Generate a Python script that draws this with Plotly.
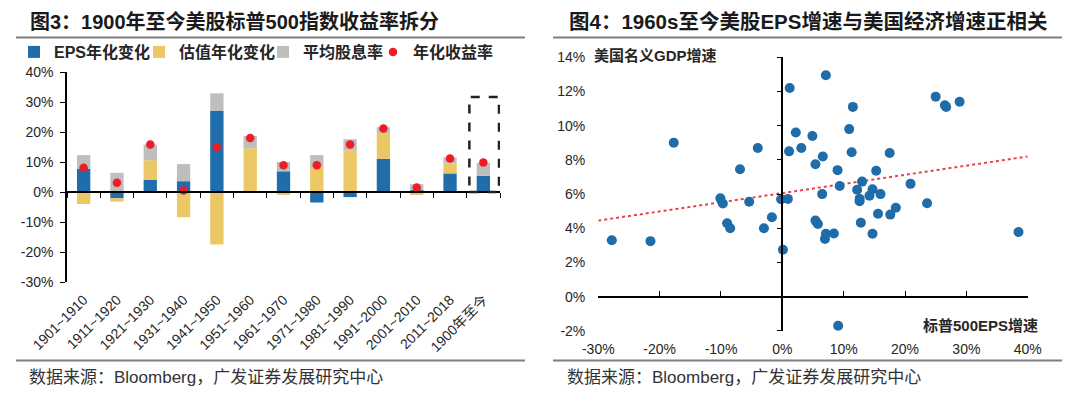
import plotly.graph_objects as go

# ---------------- data: left chart ----------------
categories = ["1901~1910", "1911~1920", "1921~1930", "1931~1940", "1941~1950",
              "1951~1960", "1961~1970", "1971~1980", "1981~1990", "1991~2000",
              "2001~2010", "2011~2018", "1900年至今"]
eps_change = [7.8, -2.1, 4.1, 3.6, 27.0, -0.3, 6.9, -3.5, -1.7, 11.1, 0.6, 6.2, 5.4]
valuation_change = [-4.0, -1.1, 6.5, -8.4, -17.5, 14.6, -1.0, 8.1, 13.9, 8.3, -1.0, 3.3, 0.2]
dividend_yield = [4.5, 6.4, 5.2, 5.7, 5.9, 4.1, 3.1, 4.2, 3.7, 2.2, 2.0, 2.0, 4.1]
annual_return = [8.1, 3.1, 15.8, 0.5, 15.0, 18.0, 8.9, 8.9, 15.8, 21.2, 1.5, 11.2, 9.8]
left_yticks = [-30, -20, -10, 0, 10, 20, 30, 40]
left_yticktext = ["-30%", "-20%", "-10%", "0%", "10%", "20%", "30%", "40%"]
highlight_top = 31.7

# ---------------- data: right chart ----------------
eps_growth = [-27.8, -21.5, -17.7, -10.1, -9.7, -9.0, -8.5, -6.9, -5.4, -4.0,
              -3.0, -1.7, -0.2, 0.9, 0.1, 1.2, 1.1, 2.2, 3.1, 4.9,
              5.4, 6.6, 7.1, 6.5, 5.4, 5.8, 7.1, 6.95, 8.4, 9.0,
              9.35, 9.1, 10.9, 11.5, 11.3, 12.2, 12.6, 12.6, 12.8, 13.0,
              14.2, 14.7, 14.7, 15.3, 15.6, 16.0, 17.5, 17.6, 18.5, 20.9,
              23.6, 25.0, 26.5, 26.7, 28.9, 38.5]
gdp_growth = [3.3, 3.25, 9.0, 5.75, 5.45, 4.3, 4.0, 7.45, 5.55, 8.7,
              4.0, 4.65, 5.7, 5.72, 2.75, 12.2, 8.5, 9.6, 8.7, 9.4,
              7.75, 8.2, 12.95, 6.0, 4.45, 4.25, 3.68, 3.37, 3.7, 7.4,
              6.47, -1.7, 9.8, 11.1, 8.45, 6.25, 5.72, 5.58, 4.33, 6.73,
              5.9, 6.28, 3.68, 7.37, 4.85, 6.0, 8.4, 4.8, 5.2, 6.6,
              5.46, 11.7, 11.2, 11.1, 11.4, 3.78]
trend_x = [-30, 40]
trend_y = [4.45, 8.2]
right_xticks = [-30, -20, -10, 0, 10, 20, 30, 40]
right_xticktext = ["-30%", "-20%", "-10%", "0%", "10%", "20%", "30%", "40%"]
right_yticks = [-2, 0, 2, 4, 6, 8, 10, 12, 14]
right_yticktext = ["-2%", "0%", "2%", "4%", "6%", "8%", "10%", "12%", "14%"]

# ---------------- style ----------------
W, H = 1080, 398
FONT = "Liberation Sans, Noto Sans CJK SC, sans-serif"
BLUE = "#1F6EAB"
YELLOW = "#EBC766"
GRAY = "#BEBEBE"
RED = "#EE1C25"
TXT = "#262626"

def px_x(p):
    return p / W

def px_y(p):
    return 1 - p / H

L_range = [left_yticks[0], left_yticks[-1]]
L_xdom = [px_x(67), px_x(500)]
L_ydom = [px_y(282), px_y(72)]
R_xrange = [right_xticks[0], right_xticks[-1]]
R_yrange = [right_yticks[0], right_yticks[-1]]
R_xdom = [px_x(598.3), px_x(1027.7)]
R_ydom = [px_y(330.9), px_y(57.3)]

def frac(v, rng, dom):
    return dom[0] + (v - rng[0]) / (rng[1] - rng[0]) * (dom[1] - dom[0])

n = len(categories)
fig = go.Figure()

fig.add_trace(go.Bar(x=categories, y=eps_change, name="EPS年化变化", legend="legend",
                     marker=dict(color=BLUE, line=dict(width=0)), xaxis="x", yaxis="y"))
fig.add_trace(go.Bar(x=categories, y=valuation_change, name="估值年化变化", legend="legend2",
                     marker=dict(color=YELLOW, line=dict(width=0)), xaxis="x", yaxis="y"))
fig.add_trace(go.Bar(x=categories, y=dividend_yield, name="平均股息率", legend="legend3",
                     marker=dict(color=GRAY, line=dict(width=0)), xaxis="x", yaxis="y"))
fig.add_trace(go.Scatter(x=categories, y=annual_return, name="年化收益率", mode="markers",
                         legend="legend4", marker=dict(color=RED, size=8.5),
                         xaxis="x", yaxis="y"))
# zero-line axis for left chart
fig.add_trace(go.Scatter(x=[], y=[], xaxis="x3", yaxis="y", showlegend=False, hoverinfo="skip"))

# right chart
fig.add_trace(go.Scatter(x=trend_x, y=trend_y, mode="lines", showlegend=False,
                         line=dict(color="#E8414B", width=2, dash="dot"),
                         xaxis="x2", yaxis="y2", hoverinfo="skip"))
fig.add_trace(go.Scatter(x=eps_growth, y=gdp_growth, mode="markers", showlegend=False,
                         marker=dict(color="#1F6CA8", size=10), xaxis="x2", yaxis="y2"))
fig.add_trace(go.Scatter(x=[], y=[], xaxis="x4", yaxis="y2", showlegend=False, hoverinfo="skip"))
fig.add_trace(go.Scatter(x=[], y=[], xaxis="x2", yaxis="y4", showlegend=False, hoverinfo="skip"))

tickfont = dict(family=FONT, size=14, color=TXT)

def legend_at(text_start):
    return dict(orientation="h", x=px_x(text_start - 39), y=px_y(52), xanchor="left",
                yanchor="middle", font=dict(family=FONT, size=16, color=TXT, weight="bold"),
                itemwidth=30, bgcolor="rgba(0,0,0,0)")

fig.update_layout(
    width=W, height=H,
    margin=dict(l=0, r=0, t=0, b=0, pad=0, autoexpand=False),
    paper_bgcolor="white", plot_bgcolor="white",
    barmode="relative", bargap=0.6,
    font=dict(family=FONT, color=TXT),
    showlegend=True,
    legend=legend_at(53),
    legend2=legend_at(178),
    legend3=legend_at(302),
    legend4=legend_at(412),
    xaxis=dict(domain=L_xdom, anchor="y", type="category", range=[-0.5, n - 0.5],
               showline=False, ticks="", showgrid=False, zeroline=False,
               tickangle=-45, tickfont=dict(family=FONT, size=14, color=TXT),
               ticklabelstandoff=6, fixedrange=True),
    xaxis3=dict(overlaying="x", anchor="free", position=frac(0, L_range, L_ydom),
                range=[-0.5, n - 0.5], tickvals=[i - 0.5 for i in range(n + 1)],
                ticks="outside", ticklen=5, tickcolor="black", showticklabels=False,
                showline=True, linecolor="black", linewidth=1.5, showgrid=False, zeroline=False),
    yaxis=dict(domain=L_ydom, anchor="x", range=L_range, tickvals=left_yticks,
               ticktext=left_yticktext, showline=True, linecolor="black", linewidth=1.5,
               ticks="outside", ticklen=5, tickcolor="black", showgrid=False, zeroline=False,
               tickfont=tickfont, ticklabelstandoff=4),
    xaxis2=dict(domain=R_xdom, anchor="y2", range=R_xrange, tickvals=right_xticks,
                ticktext=right_xticktext, showline=False, ticks="", showgrid=False,
                zeroline=False, tickfont=tickfont, ticklabelstandoff=8),
    yaxis2=dict(domain=R_ydom, anchor="x2", range=R_yrange, tickvals=right_yticks,
                ticktext=right_yticktext, showline=False, ticks="", showgrid=False,
                zeroline=False, tickfont=tickfont, ticklabelstandoff=12),
    xaxis4=dict(overlaying="x2", anchor="free", position=frac(0, R_yrange, R_ydom),
                range=R_xrange, tickvals=right_xticks, ticks="inside", ticklen=5,
                tickcolor="black", showticklabels=False, showline=True, linecolor="black",
                linewidth=1.5, showgrid=False, zeroline=False),
    yaxis4=dict(overlaying="y2", anchor="free", position=frac(0, R_xrange, R_xdom),
                range=R_yrange, tickvals=right_yticks, ticks="outside", ticklen=5,
                tickcolor="black", showticklabels=False, showline=True, linecolor="black",
                linewidth=1.5, showgrid=False, zeroline=False),
)

# highlight box around the last category
fig.add_shape(type="rect", xref="x", yref="y", x0=n - 1 - 0.42, x1=n - 1 + 0.47,
              y0=0, y1=highlight_top, line=dict(color="#222222", width=2.5, dash="dash"))

# title underline and footer lines
for x0, x1 in [(16, 525), (553, 1062)]:
    fig.add_shape(type="line", xref="paper", yref="paper", x0=px_x(x0), x1=px_x(x1),
                  y0=px_y(37.5), y1=px_y(37.5), line=dict(color="#7F7F7F", width=2))
    fig.add_shape(type="line", xref="paper", yref="paper", x0=px_x(x0), x1=px_x(x1),
                  y0=px_y(360.5), y1=px_y(360.5), line=dict(color="#7F7F7F", width=2))

titles = [(28, "<b>图3：1900年至今美股标普500指数收益率拆分</b>", 20),
          (567, "<b>图4：1960s至今美股EPS增速与美国经济增速正相关</b>", 20.5)]
for x, t, fs in titles:
    fig.add_annotation(text=t, xref="paper", yref="paper", x=px_x(x), y=px_y(21.5),
                       xanchor="left", yanchor="middle", showarrow=False,
                       font=dict(family=FONT, size=fs, color="#1A1A1A"))

for x in [27, 565]:
    fig.add_annotation(text="数据来源：Bloomberg，广发证券发展研究中心", xref="paper", yref="paper",
                       x=px_x(x), y=px_y(377.5), xanchor="left", yanchor="middle",
                       showarrow=False, font=dict(family=FONT, size=17, color="#333333"))

fig.add_annotation(text="<b>美国名义GDP增速</b>", xref="paper", yref="paper",
                   x=px_x(592), y=px_y(56), xanchor="left", yanchor="middle",
                   showarrow=False, font=dict(family=FONT, size=15, color=TXT))
fig.add_annotation(text="<b>标普500EPS增速</b>", xref="paper", yref="paper",
                   x=px_x(1040), y=px_y(325.5), xanchor="right", yanchor="middle",
                   showarrow=False, font=dict(family=FONT, size=15, color=TXT))

fig.write_html("out.html", config={"displayModeBar": False},
               post_script="document.body.style.margin='0px';"
                           "document.documentElement.style.overflow='hidden';")
